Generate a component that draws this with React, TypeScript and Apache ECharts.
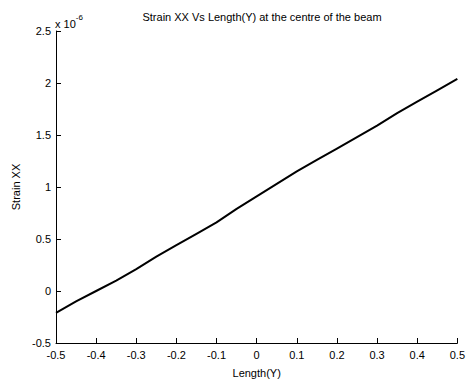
import React, { useEffect, useRef } from "react";
import * as echarts from "echarts";

const lengthY = [-0.5, -0.45, -0.4, -0.35, -0.3, -0.25, -0.2, -0.15, -0.1, -0.05, 0, 0.05, 0.1, 0.15, 0.2, 0.25, 0.3, 0.35, 0.4, 0.45, 0.5];
// strain in units of 1e-6
const strainXX = [-0.21, -0.1, 0.0, 0.1, 0.21, 0.33, 0.44, 0.55, 0.66, 0.79, 0.91, 1.03, 1.15, 1.26, 1.37, 1.48, 1.59, 1.71, 1.82, 1.93, 2.04];
const xTicks = { min: -0.5, max: 0.5, interval: 0.1 };
const yTicks = { min: -0.5, max: 2.5, interval: 0.5 };

const FONT = "'Liberation Sans', Arial, sans-serif";

export default function App() {
  const ref = useRef<HTMLDivElement>(null);
  useEffect(() => {
    document.body.style.margin = "0";
    const chart = echarts.init(ref.current!, undefined, { renderer: "svg" });
    const axisCommon = {
      axisLine: { show: true, onZero: false, lineStyle: { color: "#000", width: 1 } },
      axisTick: { show: true, inside: true, length: 5, lineStyle: { color: "#000" } },
      splitLine: { show: false },
      nameTextStyle: { color: "#000", fontSize: 11, fontFamily: FONT },
    };
    chart.setOption({
      animation: false,
      backgroundColor: "#fff",
      title: {
        text: "Strain XX Vs Length(Y) at the centre of the beam",
        left: 257,
        top: 6,
        textAlign: "center",
        textStyle: { fontSize: 11, fontWeight: "normal", color: "#000", fontFamily: FONT },
      },
      grid: { left: 56, top: 31, width: 403, height: 316, containLabel: false },
      xAxis: {
        type: "value",
        ...xTicks,
        ...axisCommon,
        name: "Length(Y)",
        nameLocation: "middle",
        nameGap: 24,
        axisLabel: {
          color: "#000",
          fontSize: 11,
          fontFamily: FONT,
          margin: 6,
          formatter: (v: number) => String(Math.round(v * 10) / 10),
        },
      },
      yAxis: {
        type: "value",
        ...yTicks,
        ...axisCommon,
        name: "Strain XX",
        nameLocation: "middle",
        nameGap: 34,
        axisLabel: {
          color: "#000",
          fontSize: 11,
          fontFamily: FONT,
          margin: 5,
          formatter: (v: number) => String(Math.round(v * 10) / 10),
        },
      },
      graphic: [
        {
          type: "text",
          left: 55,
          top: 13,
          style: {
            text: "{a|x 10}{b|-6}",
            rich: {
              a: { fontSize: 11, fontFamily: FONT, fill: "#000", verticalAlign: "bottom" },
              b: { fontSize: 8, fontFamily: FONT, fill: "#000", verticalAlign: "top", padding: [0, 0, 8, 0] },
            },
          },
        },
      ],
      series: [
        {
          type: "line",
          data: lengthY.map((x, i) => [x, strainXX[i]]),
          showSymbol: false,
          lineStyle: { color: "#000", width: 2 },
        },
      ],
    });
    return () => chart.dispose();
  }, []);
  return <div ref={ref} style={{ width: 468, height: 383 }} />;
}
